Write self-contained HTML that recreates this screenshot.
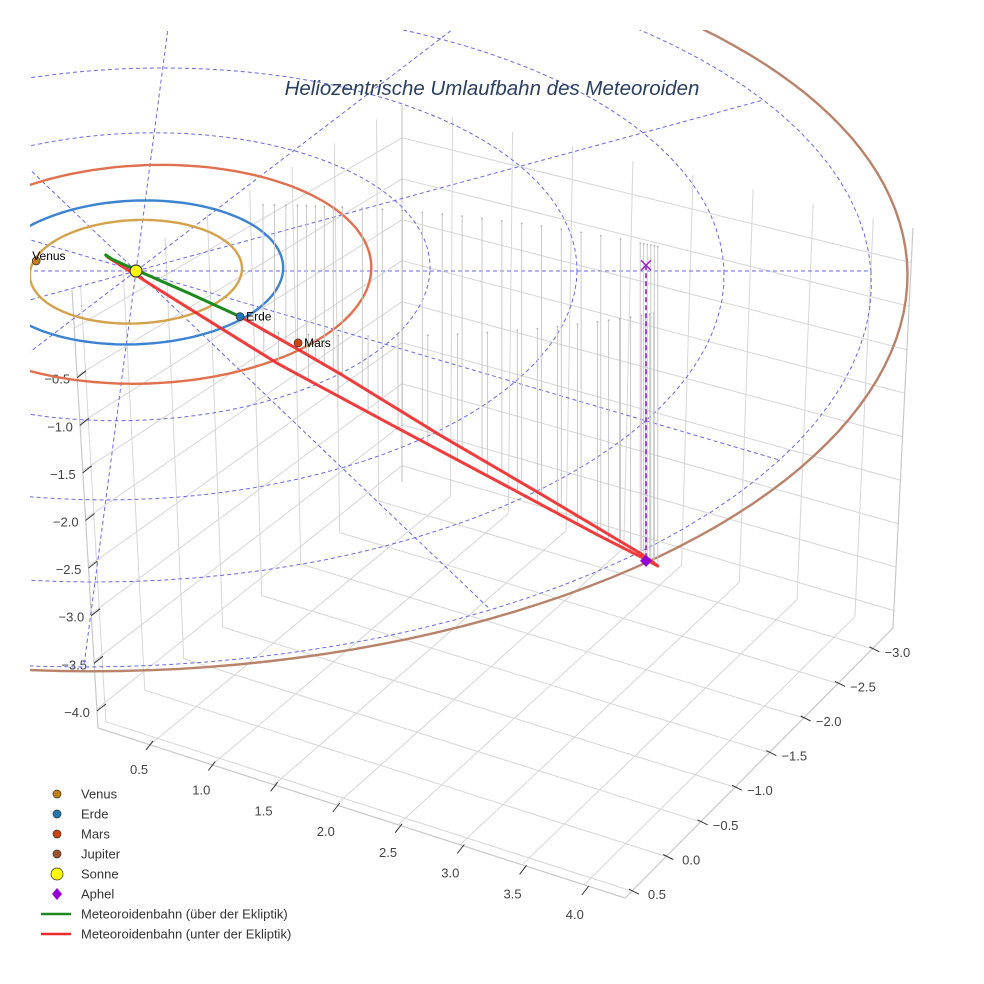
<!DOCTYPE html>
<html><head><meta charset="utf-8"><style>
html,body{margin:0;padding:0;background:#fff;}
svg{display:block;font-family:"Liberation Sans",sans-serif;}
</style></head><body>
<svg id="chart" width="984" height="984" viewBox="0 0 984 984" xmlns="http://www.w3.org/2000/svg">
  <defs><clipPath id="clipScene"><rect x="30" y="30" width="954" height="954"/></clipPath></defs>
  <g id="boxLayer"></g>
  <g id="tickLayer"></g>
  <g clip-path="url(#clipScene)">
    <g id="gridLayer"></g>
    <g id="orbitLayer"></g>
    <g id="stemLayer"></g>
    <g id="meteorLayer"></g>
    <g id="markerLayer"></g>
  </g>
  <text x="492" y="95" text-anchor="middle" font-size="20.5" font-style="italic" fill="#2a3f5f">Heliozentrische Umlaufbahn des Meteoroiden</text>
  <g id="legend" font-size="13" fill="#333"></g>
</svg>
<script>
// ---------- data ----------
const xTicks = [0.5,1.0,1.5,2.0,2.5,3.0,3.5,4.0];
const yTicks = [0.5,0.0,-0.5,-1.0,-1.5,-2.0,-2.5,-3.0];
const zTicks = [-0.5,-1.0,-1.5,-2.0,-2.5,-3.0,-3.5,-4.0];
const orbitNames = ["Venus","Erde","Mars","Jupiter"];
const orbitA = [0.72,1.0,1.52,5.2];
const orbitCX = [0.0,0.0,0.08,0.05];
const orbitCY = [0.0,0.0,0.0,-0.15];
const planetX = [-0.69,0.74,1.145];
const planetY = [-0.14,0.625,0.98];
const planetLabels = ["Venus","Erde","Mars"];
const gridRadii = [1,2,3,4,5];
const gridAngles = [0,30,60,90,120,150,180,210,240,270,300,330];
const aboveX = [0.74,0.39,0.0,-0.17,-0.22,-0.21];
const aboveY = [0.625,0.35,0.02,-0.15,-0.2,-0.2];
const aboveZ = [0,0.03,0.03,0.01,0.02,0.0];
const belowAX = [-0.21,0.076,0.546,0.95,1.77,2.59,3.14,3.44,3.55];
const belowAY = [-0.2,-0.3,-0.4,-0.45,-0.42,-0.33,-0.22,-0.13,-0.08];
const belowAZ = [0,-0.41,-1.01,-1.49,-2.23,-2.91,-3.33,-3.52,-3.58];
const belowBX = [3.55,3.43,2.76,2.09,1.42,1.12,0.74];
const belowBY = [-0.08,0,0.15,0.3,0.45,0.52,0.625];
const belowBZ = [-3.58,-3.36,-2.53,-1.71,-0.85,-0.48,0];
const aphelX = 3.47, aphelY = -0.08, aphelZ = -3.52;
const sunX = 0, sunY = 0;

// ---------- styles ----------
const orbitColors = ["#d4a24c","#3b82d0","#e0704e","#b8836a"];
const planetColors = ["#c77d10","#1f77b4","#cc4410"];
const NS = "http://www.w3.org/2000/svg";
function mk(tag, attrs, parent){const e=document.createElementNS(NS,tag);for(const k in attrs)e.setAttribute(k,attrs[k]);if(parent)parent.appendChild(e);return e;}
function line(p,q,attrs,parent){return mk("line",Object.assign({x1:p[0].toFixed(1),y1:p[1].toFixed(1),x2:q[0].toFixed(1),y2:q[1].toFixed(1)},attrs),parent);}

// ---------- box (bilinear faces) ----------
const BX={xmin:0.08,xmax:4.33,ymin:-3.3,ymax:0.6,zmin:-4.2,zmax:0.4};
const cA=[98,728], cB=[625,898], cC=[893,628], cD=[402,482];
const cA2=[72,290], cD2=[402,105], cC2=[913,228], cB2=[612,330];
function bil(p00,p10,p01,p11,u,v){return [0,1].map(k=>(1-u)*(1-v)*p00[k]+u*(1-v)*p10[k]+(1-u)*v*p01[k]+u*v*p11[k]);}
const fx=x=>(x-BX.xmin)/(BX.xmax-BX.xmin), fy=y=>(BX.ymax-y)/(BX.ymax-BX.ymin), fz=z=>(z-BX.zmin)/(BX.zmax-BX.zmin);
function floorP(x,y){return bil(cA,cB,cD,cC,fx(x),fy(y));}
function rightWallP(x,z){return bil(cD,cC,cD2,cC2,fx(x),fz(z));}
function leftWallP(y,z){return bil(cA,cD,cA2,cD2,fy(y),fz(z));}
const boxL=document.getElementById("boxLayer");
const gs={stroke:"#d6d6d6","stroke-width":1};
xTicks.forEach(x=>{const l=line(floorP(x,BX.ymax),floorP(x,BX.ymin),gs,boxL);


const w=line(rightWallP(x,BX.zmin),rightWallP(x,BX.zmax),gs,boxL);

});
yTicks.forEach(y=>{const l=line(floorP(BX.xmin,y),floorP(BX.xmax,y),gs,boxL);


const w=line(leftWallP(y,BX.zmin),leftWallP(y,BX.zmax),gs,boxL);

});
zTicks.concat([0.0]).forEach(z=>{
  const a=line(leftWallP(BX.ymax,z),leftWallP(BX.ymin,z),gs,boxL);
  
  
  const b=line(rightWallP(BX.xmin,z),rightWallP(BX.xmax,z),gs,boxL);
  
  
});
const es={stroke:"#c8c8c8","stroke-width":1.2};
[[cA,cB],[cB,cC],[cA,cA2],[cC,cC2],[cD,cD2]].forEach(s=>{
  const l=line(s[0],s[1],es,boxL);
  
  
});

// ---------- ticks ----------
const tickL=document.getElementById("tickLayer");
const ts={stroke:"#333","stroke-width":1};
function fmt(v){return (v<0?"\u2212":"")+Math.abs(v).toFixed(1);}
xTicks.forEach(x=>{const p=floorP(x,BX.ymax);
  const q=[p[0]+(x-0.5)*0.5,p[1]+(x-0.5)*1.5];
  const l=line([q[0]-4,q[1]+5],[q[0]+3,q[1]-4],ts,tickL);
  
  
  const t=mk("text",{x:(q[0]-11).toFixed(1),y:(q[1]+29).toFixed(1),"text-anchor":"middle","font-size":13,fill:"#444"},tickL);
  t.textContent=fmt(x);
  
  });
yTicks.forEach(y=>{const p=floorP(BX.xmax,y);
  const l=line([p[0]-3,p[1]-2],[p[0]+7,p[1]+3],ts,tickL);
  
  
  const t=mk("text",{x:(p[0]+25).toFixed(1),y:(p[1]+8).toFixed(1),"text-anchor":"middle","font-size":13,fill:"#444"},tickL);
  t.textContent=fmt(y);
  
  });
zTicks.forEach(z=>{const p=leftWallP(BX.ymax,z);
  const l=line([p[0],p[1]+2],[p[0]+9,p[1]-5],ts,tickL);
  
  
  const t=mk("text",{x:(p[0]-7).toFixed(1),y:(p[1]+8).toFixed(1),"text-anchor":"end","font-size":13,fill:"#444"},tickL);
  t.textContent=fmt(z);
  
  });

// ---------- ecliptic projection ----------
function eclP(X,Y,Z){const g=1+0.02*Y;return [136+(147*X-9.5*Y)*g, 271+72*Y*g-84*Z];}
function pathFrom(pts){return pts.map((p,i)=>(i?"L":"M")+p[0].toFixed(1)+" "+p[1].toFixed(1)).join(" ");}
const gridL=document.getElementById("gridLayer");
const ds={fill:"none",stroke:"#6a6ae6","stroke-width":1,"stroke-dasharray":"4 3"};
gridRadii.forEach(r=>{const pts=[];for(let a=0;a<=360;a+=3){const t=a*Math.PI/180;pts.push(eclP(r*Math.cos(t),r*Math.sin(t),0));}
  const e=mk("path",Object.assign({d:pathFrom(pts)},ds),gridL);
  
  });
const rMax=gridRadii[gridRadii.length-1];
gridAngles.forEach(a=>{const t=a*Math.PI/180;
  const e=mk("path",Object.assign({d:pathFrom([eclP(0,0,0),eclP(rMax*Math.cos(t),rMax*Math.sin(t),0)])},ds),gridL);
  
  });

const orbitL=document.getElementById("orbitLayer");
orbitNames.forEach((n,i)=>{const pts=[];for(let a=0;a<=360;a+=2){const t=a*Math.PI/180;pts.push(eclP(orbitCX[i]+orbitA[i]*Math.cos(t),orbitCY[i]+orbitA[i]*Math.sin(t),0));}
  const e=mk("path",{d:pathFrom(pts),fill:"none",stroke:orbitColors[i],"stroke-width":2.4},orbitL);
  
  });

// ---------- drop lines ----------
const stemL=document.getElementById("stemLayer");
function interp(X,Y,Z,n){const out=[];for(let i=0;i<X.length-1;i++){for(let k=0;k<n;k++){const s=k/n;out.push([X[i]+(X[i+1]-X[i])*s,Y[i]+(Y[i+1]-Y[i])*s,Z[i]+(Z[i+1]-Z[i])*s]);}}return out;}
function stems(samp,upper){samp.forEach(q=>{
  const p=eclP(q[0],q[1],q[2]); if(p[0]<255)return;
  const top=upper?(205+0.00025*(p[0]-250)*(p[0]-250)):(336-0.0003*(p[0]-380)*(p[0]-380));
  const l=line(p,[p[0],top],{stroke:"#c4c4c4","stroke-width":0.9},stemL);
  
  
  const c=mk("circle",{cx:p[0].toFixed(1),cy:top.toFixed(1),r:0.9,fill:"#b0b0b0"},stemL);
  
  });}
stems(interp(belowBX,belowBY,belowBZ,5),true);
stems(interp(belowAX,belowAY,belowAZ,4),false);

// ---------- meteoroid ----------
const metL=document.getElementById("meteorLayer");
const redPts=belowAX.map((x,i)=>eclP(x,belowAY[i],belowAZ[i])).concat(belowBX.slice(1).map((x,i)=>eclP(x,belowBY[i+1],belowBZ[i+1])));
const rp=mk("path",{d:pathFrom(redPts),fill:"none",stroke:"#ee2b2b","stroke-opacity":0.92,"stroke-width":3,"stroke-linejoin":"round"},metL);


const abovePts=aboveX.map((x,i)=>eclP(x,aboveY[i],aboveZ[i]));
const gp=mk("path",{d:pathFrom(abovePts),fill:"none",stroke:"#1d8a1d","stroke-width":3,"stroke-linejoin":"round"},metL);



// ---------- markers ----------
const mL=document.getElementById("markerLayer");
const ap0=eclP(aphelX,aphelY,0), ap1=eclP(aphelX,aphelY,aphelZ);
const dl=line(ap0,ap1,{stroke:"#9b1fd6","stroke-width":1.6,"stroke-dasharray":"5 3"},mL);


const xm=mk("path",{d:`M${ap0[0]-5} ${ap0[1]-5}L${ap0[0]+5} ${ap0[1]+5}M${ap0[0]+5} ${ap0[1]-5}L${ap0[0]-5} ${ap0[1]+5}`,stroke:"#9b1fd6","stroke-width":1.5},mL);


const dm=mk("path",{d:`M${ap1[0]} ${ap1[1]-6}L${ap1[0]+6} ${ap1[1]}L${ap1[0]} ${ap1[1]+6}L${ap1[0]-6} ${ap1[1]}Z`,fill:"#9400d3"},mL);


planetLabels.forEach((n,i)=>{const p=eclP(planetX[i],planetY[i],0);
  const c=mk("circle",{cx:p[0].toFixed(1),cy:p[1].toFixed(1),r:4,fill:planetColors[i],stroke:"#333","stroke-width":0.7},mL);
  
  
  const t=mk("text",{x:(p[0]+(i===0?-4:6)).toFixed(1),y:(p[1]+(i===0?-1:4)).toFixed(1),"font-size":12,fill:"#000"},mL);
  t.textContent=n;
  
  });
const sp=eclP(sunX,sunY,0);
const sun=mk("circle",{cx:sp[0],cy:sp[1],r:6,fill:"#ffff00",stroke:"#333","stroke-width":1.2},mL);



// ---------- legend ----------
const leg=document.getElementById("legend");
const legendNames=["Venus","Erde","Mars","Jupiter","Sonne","Aphel","Meteoroidenbahn (über der Ekliptik)","Meteoroidenbahn (unter der Ekliptik)"];
const legendColors=["#c77d10","#1f77b4","#cc4410","#a0522d","#ffff00","#9400d3","#1d8a1d","#ee2b2b"];
legendNames.forEach((n,i)=>{const y=794+i*20;
  const g=mk("g",{},leg);
  
  
  if(i<5){mk("circle",{cx:57,cy:y,r:i===4?6:4,fill:legendColors[i],stroke:"#333","stroke-width":0.7},g);}
  else if(i===5){mk("path",{d:`M57 ${y-6}L62 ${y}L57 ${y+6}L52 ${y}Z`,fill:legendColors[i]},g);}
  else{mk("line",{x1:41,y1:y,x2:71,y2:y,stroke:legendColors[i],"stroke-width":2.5},g);}
  const t=mk("text",{x:81,y:y+4.5,"font-size":13,fill:"#333"},g);t.textContent=n;});
</script>
</body></html>
